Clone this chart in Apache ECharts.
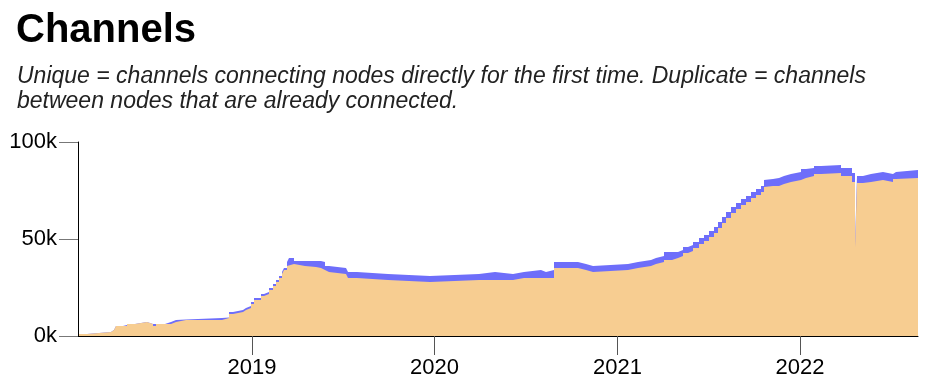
<!DOCTYPE html>
<html><head><meta charset="utf-8">
<script src="https://cdn.jsdelivr.net/npm/echarts@6/dist/echarts.min.js"></script>
<style>html,body{margin:0;padding:0;background:#fff}#c{width:940px;height:388px}</style>
</head><body><div id="c"></div>
<script>
// Each date starts a step; value holds until the next date.
const dates = [
'2018-01-20','2018-02-05','2018-03-25','2018-03-31','2018-04-04','2018-04-18','2018-04-26','2018-05-12',
'2018-06-05','2018-06-17','2018-06-23','2018-07-11','2018-07-23','2018-08-02','2018-08-22','2018-11-02',
'2018-11-16','2018-11-24','2018-12-14','2018-12-20','2018-12-30','2019-01-05','2019-01-19','2019-01-25',
'2019-02-04','2019-02-12','2019-02-18','2019-02-24','2019-03-02','2019-03-06','2019-03-12','2019-03-16',
'2019-03-26','2019-04-17','2019-05-09','2019-05-19','2019-05-27','2019-06-04','2019-07-08','2019-07-12',
'2019-07-30','2019-09-30','2019-12-23','2020-03-30','2020-05-01','2020-06-06','2020-06-28','2020-08-01',
'2020-08-11','2020-08-27','2020-10-14','2020-10-30','2020-11-13','2021-01-22','2021-02-11','2021-03-09',
'2021-03-19','2021-04-04','2021-04-20','2021-05-02','2021-05-12','2021-05-22','2021-06-01','2021-06-13',
'2021-06-23','2021-07-03','2021-07-13','2021-07-21','2021-07-29','2021-08-06','2021-08-16','2021-08-26',
'2021-09-05','2021-09-15','2021-09-25','2021-10-05','2021-10-15','2021-10-21','2021-10-25','2021-11-08',
'2021-11-20','2021-11-30','2021-12-14','2022-01-03','2022-01-13','2022-01-29','2022-02-12','2022-03-24',
'2022-04-15','2022-04-21','2022-04-25','2022-05-07','2022-05-23','2022-06-16','2022-07-06','2022-07-12',
'2022-08-25'
];
const unique = [
1030,2060,3090,4120,5150,5150,6190,7220,
6190,5150,6190,6190,7220,8250,8250,9280,
11340,12370,13400,14430,16500,18560,20620,21650,
23710,25770,27840,29900,31960,34020,36080,37110,
36080,35570,35050,34020,32990,31960,30930,29900,
28870,27840,28870,28870,28870,29900,29900,29900,
29900,35050,34020,32990,34020,35050,36080,37110,
38140,39180,40210,41240,42780,43810,45360,47420,
48970,51030,53090,55670,58250,60820,63400,65460,
67530,69070,71130,72680,74230,76800,77320,77320,
78350,79380,80410,81440,82470,83510,84020,82470,
79380,45800,78870,79380,80410,79380,80930,81440,
81440
];
const duplicate = [
0,0,0,0,0,500,0,0,
0,1030,0,1030,1030,300,1030,300,
1030,1030,1030,1030,1030,1030,1030,1030,
1030,1030,1030,1030,1030,1030,2060,3090,
2580,3090,3600,4120,3090,3090,3090,3090,
3090,3090,3090,4120,3090,3090,4120,3090,
4120,3090,3090,3090,3090,3090,3090,3090,
3090,4120,3090,3090,3090,3090,3090,3090,
3090,3090,3090,3090,3090,3090,3090,3090,
3090,3090,3090,3090,3090,3600,3600,4120,
4120,4120,4120,4640,4120,4120,4120,4120,
4640,1550,3600,4120,4120,4120,3600,4120,
4120
];
const yTicks = [0, 50000, 100000];
const xTickLabels = ['2019', '2020', '2021', '2022'];
const xRange = ['2018-01-18', '2022-08-25'];

function toTime(s) { const p = s.split('-').map(Number); return new Date(p[0], p[1] - 1, p[2]).getTime(); }
const times = dates.map(toTime);
const xMin = toTime(xRange[0]), xMax = toTime(xRange[1]);
const xTickValues = xTickLabels.map(y => new Date(+y, 0, 1).getTime());
const FONT = '"Liberation Sans", Arial, Helvetica, sans-serif';

// Duplicate sits on top of Unique: draw the running total behind, Unique in front (avoids seams).
const total = unique.map((u, i) => u + duplicate[i]);

const chart = echarts.init(document.getElementById('c'), null, { renderer: 'canvas' });
chart.setOption({
  animation: false,
  backgroundColor: '#fff',
  title: [
    { text: 'Channels', left: 16, top: 11, padding: 0,
      textStyle: { fontFamily: FONT, fontSize: 40, fontWeight: 'bold', color: '#000' } },
    { text: 'Unique = channels connecting nodes directly for the first time. Duplicate = channels\nbetween nodes that are already connected.',
      left: 17, top: 64, padding: 0,
      textStyle: { fontFamily: FONT, fontSize: 23, fontStyle: 'italic', fontWeight: 'normal', color: '#222', lineHeight: 25 } }
  ],
  grid: { left: 78, right: 22, top: 142, bottom: 52, containLabel: false },
  xAxis: [
    { type: 'time', min: xMin, max: xMax, show: false, position: 'bottom' },
    { type: 'value', min: xMin, max: xMax, scale: true, position: 'bottom',
      axisLine: { show: true, lineStyle: { color: '#000', width: 1 } },
      axisTick: { show: true, length: 19, lineStyle: { color: '#555' }, customValues: xTickValues },
      axisLabel: { customValues: xTickValues, fontFamily: FONT, fontSize: 22, color: '#000', margin: 21,
        formatter: v => String(new Date(v).getFullYear()) },
      splitLine: { show: false }, minorTick: { show: false } }
  ],
  yAxis: {
    type: 'value', min: yTicks[0], max: yTicks[yTicks.length - 1], interval: yTicks[1] - yTicks[0],
    axisLine: { show: true, lineStyle: { color: '#000', width: 1 } },
    axisTick: { show: true, length: 19, lineStyle: { color: '#777' } },
    axisLabel: { fontFamily: FONT, fontSize: 22, color: '#000', margin: 21, formatter: v => (v / 1000) + 'k' },
    splitLine: { show: false }
  },
  series: [
    { name: 'Duplicate', type: 'line', xAxisIndex: 0, step: 'end', showSymbol: false, symbol: 'none', z: 1,
      lineStyle: { width: 0, opacity: 0 }, areaStyle: { color: '#6e6efa', opacity: 1 },
      data: times.map((t, i) => [t, total[i]]) },
    { name: 'Unique', type: 'line', xAxisIndex: 0, step: 'end', showSymbol: false, symbol: 'none', z: 2,
      lineStyle: { width: 0, opacity: 0 }, areaStyle: { color: '#f7cd91', opacity: 1 },
      data: times.map((t, i) => [t, unique[i]]) }
  ]
});
</script></body></html>
